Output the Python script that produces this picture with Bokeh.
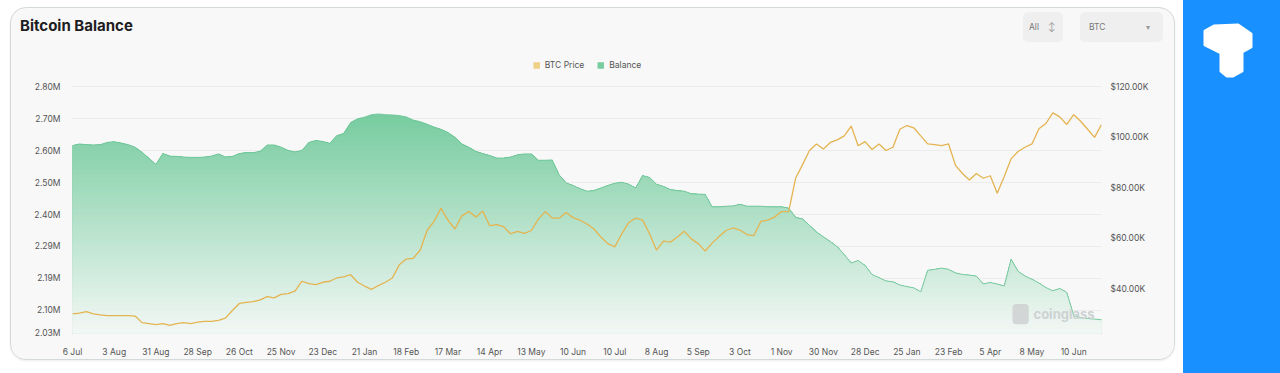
import numpy as np
from bokeh.plotting import figure
from bokeh.models import Range1d, LinearAxis, FixedTicker, Legend, LegendItem, Label, Div
from bokeh.layouts import row, column
from bokeh.embed import file_html
from bokeh.resources import INLINE

# ---------------- data ----------------
x_labels = ["6 Jul", "3 Aug", "31 Aug", "28 Sep", "26 Oct", "25 Nov", "23 Dec",
            "21 Jan", "18 Feb", "17 Mar", "14 Apr", "13 May", "10 Jun", "10 Jul",
            "8 Aug", "5 Sep", "3 Oct", "1 Nov", "30 Nov", "28 Dec", "25 Jan",
            "23 Feb", "5 Apr", "8 May", "10 Jun"]
label_step = 6  # data points between two date labels

balance_m = [
    2.616, 2.621, 2.619, 2.618, 2.619, 2.626, 2.628, 2.624, 2.619, 2.611,
    2.595, 2.576, 2.557, 2.591, 2.583, 2.582, 2.580, 2.579, 2.579, 2.580,
    2.583, 2.590, 2.580, 2.582, 2.591, 2.594, 2.594, 2.598, 2.618, 2.618,
    2.611, 2.601, 2.596, 2.601, 2.626, 2.632, 2.629, 2.623, 2.647, 2.654,
    2.688, 2.700, 2.705, 2.713, 2.715, 2.713, 2.712, 2.710, 2.706, 2.696,
    2.691, 2.683, 2.674, 2.667, 2.657, 2.642, 2.621, 2.611, 2.598, 2.591,
    2.585, 2.577, 2.577, 2.580, 2.587, 2.590, 2.590, 2.570, 2.570, 2.571,
    2.524, 2.499, 2.491, 2.481, 2.473, 2.475, 2.483, 2.491, 2.498, 2.501,
    2.495, 2.483, 2.522, 2.516, 2.495, 2.488, 2.478, 2.475, 2.473, 2.465,
    2.464, 2.463, 2.424, 2.424, 2.426, 2.427, 2.432, 2.426, 2.426, 2.426,
    2.424, 2.424, 2.424, 2.420, 2.391, 2.386, 2.366, 2.345, 2.330, 2.315,
    2.299, 2.274, 2.248, 2.256, 2.240, 2.212, 2.202, 2.192, 2.189, 2.179,
    2.174, 2.170, 2.158, 2.225, 2.228, 2.232, 2.228, 2.217, 2.212, 2.210,
    2.207, 2.182, 2.187, 2.182, 2.176, 2.260, 2.222, 2.207, 2.197, 2.185,
    2.171, 2.161, 2.168, 2.156, 2.084, 2.076, 2.074, 2.072, 2.070]

btc_price_k = [
    30.1, 30.4, 31.0, 30.1, 29.7, 29.4, 29.4, 29.4, 29.4, 29.2,
    26.6, 26.2, 25.8, 26.2, 25.5, 26.2, 26.6, 26.2, 26.8, 27.1,
    27.1, 27.5, 28.4, 31.4, 34.2, 34.6, 34.9, 35.6, 36.9, 36.4,
    37.8, 38.1, 39.1, 43.0, 42.1, 41.7, 42.6, 43.0, 44.3, 44.7,
    45.6, 42.6, 41.1, 39.8, 41.3, 42.6, 44.3, 49.5, 51.8, 52.1,
    55.3, 63.1, 66.7, 71.9, 67.2, 63.7, 68.9, 70.6, 68.5, 70.8,
    65.0, 65.4, 64.6, 61.8, 62.8, 62.0, 63.1, 67.6, 70.6, 68.0,
    68.0, 70.2, 68.2, 67.2, 65.7, 63.7, 60.5, 57.9, 56.6, 61.8,
    66.3, 68.0, 67.2, 61.8, 55.3, 58.9, 58.5, 60.5, 62.8, 59.8,
    57.9, 55.0, 58.1, 60.7, 63.1, 64.1, 63.3, 61.5, 61.1, 66.7,
    67.2, 68.5, 70.6, 70.6, 83.8, 89.2, 94.8, 97.4, 95.4, 98.0,
    99.0, 100.6, 104.5, 96.7, 98.3, 95.2, 97.4, 94.8, 96.1, 103.2,
    104.7, 103.8, 100.6, 97.4, 97.1, 96.7, 97.4, 88.9, 85.7, 83.1,
    85.7, 83.8, 84.8, 77.9, 84.4, 91.5, 94.4, 96.1, 97.4, 103.4,
    105.5, 109.7, 108.1, 105.1, 109.0, 106.4, 103.2, 100.0, 105.1]

left_ticks = [2.028, 2.1, 2.2, 2.3, 2.4, 2.5, 2.6, 2.7, 2.8]
left_labels = ["2.03M", "2.10M", "2.19M", "2.29M", "2.40M", "2.50M", "2.60M", "2.70M", "2.80M"]
right_ticks = [40, 60, 80, 100, 120]
right_labels = ["$40.00K", "$60.00K", "$80.00K", "$100.00K", "$120.00K"]

title_text = "Bitcoin Balance"
range_choice = "All"
coin_choice = "BTC"

# ---------------- styles / geometry (page pixels) ----------------
FONT = "Inter"
CARD = "#f8f8f8"
TXT = "#555555"
GOLD = "#e4b451"
BLUE = "#1890ff"
GREEN_TOP = (120, 204, 160)
GREEN_BOT = (244, 248, 246)

CARD_L, CARD_T, CARD_W, HEAD_H, CHART_H = 10, 7, 1163, 44, 307
IN_L, IN_T = CARD_L + 1, CARD_T + 1                 # inside the 1px card border
CH_T = IN_T + HEAD_H                                # top of chart figure
FX0, FX1, FY0, FY1 = 72, 1101, CH_T, 338            # frame edges
Y_TOPTICK = 87                                      # y of the 2.80M / $120K line
SIDE_L, SIDE_W = 1183, 97

idx = np.arange(len(balance_m))
bal = np.array(balance_m)
price = np.array(btc_price_k)
n_last = len(idx) - 1

y_lo = 2.027
m_per_px = (2.80 - y_lo) / (FY1 - Y_TOPTICK)
y_hi = 2.80 + (Y_TOPTICK - FY0) * m_per_px
p_lo = 22.3
k_per_px = (120.0 - p_lo) / (FY1 - Y_TOPTICK)
p_hi = 120.0 + (Y_TOPTICK - FY0) * k_per_px


def dx(px):  # page pixel -> chart x data (decorations only)
    return (px - FX0) / (FX1 - FX0) * n_last


def dy(py):
    return y_hi - (py - FY0) / (FY1 - FY0) * (y_hi - y_lo)


def box(x, y, w, h, fill, radius=0, alpha=1.0):
    return Label(x=x, y=y, text="\u00a0", text_font_size="1px",
                 text_align="left", text_baseline="top",
                 padding=dict(left=0, top=0, right=int(w), bottom=int(h)),
                 background_fill_color=fill, background_fill_alpha=alpha,
                 border_line_color=None, border_radius=radius)


# ---------------- header (title + selectors), HTML ----------------
def absdiv(left, top, style, content=""):
    return ('<div style="position:absolute;left:%dpx;top:%dpx;%s">%s</div>'
            % (left - IN_L, top - IN_T, style, content))


head_html = (
    '<div style="position:relative;width:%dpx;height:%dpx;font-family:Inter,sans-serif;">'
    % (CARD_W, HEAD_H)
    + absdiv(20, 18, "font-size:15px;font-weight:700;color:#1d1d1f;line-height:16px;"
             "white-space:nowrap;", title_text)
    + absdiv(1023, 12, "width:40px;height:30px;background:#efefef;border-radius:5px;")
    + absdiv(1080, 12, "width:83px;height:30px;background:#efefef;border-radius:5px;")
    + absdiv(1029, 12, "line-height:30px;font-size:8.5px;color:#777;", range_choice)
    + absdiv(1048, 12, "line-height:30px;font-size:9px;color:#999;", "↕")
    + absdiv(1089, 12, "line-height:30px;font-size:8.5px;color:#777;", coin_choice)
    + absdiv(1146, 12, "line-height:30px;font-size:8px;color:#999;", "▾")
    + '</div>')
head = Div(text=head_html, width=CARD_W, height=HEAD_H, margin=0)

# ---------------- chart ----------------
p = figure(width=CARD_W, height=CHART_H, output_backend="svg", toolbar_location=None,
           title_location=None,
           x_range=Range1d(0, n_last), y_range=Range1d(y_lo, y_hi),
           min_border_left=FX0 - IN_L, min_border_right=IN_L + CARD_W - FX1,
           min_border_top=0, min_border_bottom=CH_T + CHART_H - FY1, margin=0)
p.background_fill_color = CARD
p.border_fill_color = CARD
p.outline_line_color = None
p.extra_y_ranges = {"price": Range1d(p_lo, p_hi)}

# gradient-filled balance area (stack of bands, darkest at the top)
bmax = float(bal.max())
K = 48
levels = np.linspace(bmax, y_lo, K, endpoint=False)
band_renderers = []
for hi in levels:
    t = (hi - y_lo) / (bmax - y_lo)
    c = tuple(int(round(GREEN_BOT[j] + (GREEN_TOP[j] - GREEN_BOT[j]) * t)) for j in range(3))
    r = p.varea(x=idx, y1=y_lo, y2=np.minimum(bal, hi), fill_color="#%02x%02x%02x" % c)
    band_renderers.append(r)
p.line(idx, bal, line_color="#6cc597", line_width=1, line_alpha=0.9)

# price line (+ zero-height area used as its legend key)
price_key = p.varea(x=idx, y1=price, y2=price, y_range_name="price", fill_color="#efcf84")
p.line(idx, price, y_range_name="price", line_color=GOLD, line_width=1.3)

# axes
p.yaxis.ticker = FixedTicker(ticks=left_ticks)
p.yaxis.major_label_overrides = dict(zip(left_ticks, left_labels))
xt = list(range(0, label_step * len(x_labels), label_step))
p.xaxis.ticker = FixedTicker(ticks=xt)
p.xaxis.major_label_overrides = dict(zip(xt, x_labels))

raxis = LinearAxis(y_range_name="price", ticker=FixedTicker(ticks=right_ticks),
                   major_label_overrides=dict(zip(right_ticks, right_labels)))
p.add_layout(raxis, "right")

for ax in [p.yaxis[0], p.xaxis[0], raxis]:
    ax.axis_line_color = None
    ax.major_tick_line_color = None
    ax.minor_tick_line_color = None
    ax.major_label_text_font = FONT
    ax.major_label_text_font_size = "8.5px"
    ax.major_label_text_color = TXT
p.yaxis[0].major_label_standoff = 6
raxis.major_label_standoff = 3
p.xaxis[0].major_label_standoff = 7

p.xgrid.visible = False
p.ygrid.ticker = FixedTicker(ticks=left_ticks[1:])
p.ygrid.grid_line_color = "#ececec"

legend = Legend(items=[LegendItem(label="BTC Price", renderers=[price_key]),
                       LegendItem(label="Balance", renderers=[band_renderers[0]])],
                orientation="horizontal", location="top_center",
                glyph_width=8, glyph_height=8, label_standoff=5, spacing=12,
                padding=4, margin=3, label_height=12,
                label_text_font=FONT, label_text_font_size="8.5px", label_text_color=TXT,
                background_fill_alpha=0, border_line_alpha=0)
p.add_layout(legend)

# watermark
p.add_layout(box(dx(1012), dy(308), 16, 19, "#cfd3d3", 4, alpha=0.9))
p.add_layout(Label(x=dx(1033), y=dy(318), text="coinglass", text_font=FONT,
                   text_font_size="13px", text_font_style="bold", text_color="#cdd2d2",
                   text_baseline="middle"))

card = column(head, p, spacing=0,
              margin=(CARD_T, SIDE_L - CARD_L - CARD_W - 2, 0, CARD_L),
              styles={"border": "1px solid #d4d9d9", "border-radius": "16px",
                      "overflow": "hidden", "background-color": CARD,
                      "box-shadow": "0 1px 2px rgba(0,0,0,0.08)"})

# ---------------- blue side panel with logo ----------------
logo_svg = ('<svg width="%d" height="80" xmlns="http://www.w3.org/2000/svg">'
            '<polygon points="22,8 31,3 55,2 68,11 68,24 59,29 59,48 50,53 44,53 '
            '38,48 38,30 22,22" fill="white" stroke="white" stroke-width="3" '
            'stroke-linejoin="round"/></svg>') % SIDE_W
side = Div(text=logo_svg, width=SIDE_W, height=373, margin=0,
           styles={"background-color": BLUE, "padding-top": "23px",
                   "box-sizing": "border-box"})

layout = row(card, side, spacing=0)
open("out.html", "w").write(file_html(layout, INLINE))
